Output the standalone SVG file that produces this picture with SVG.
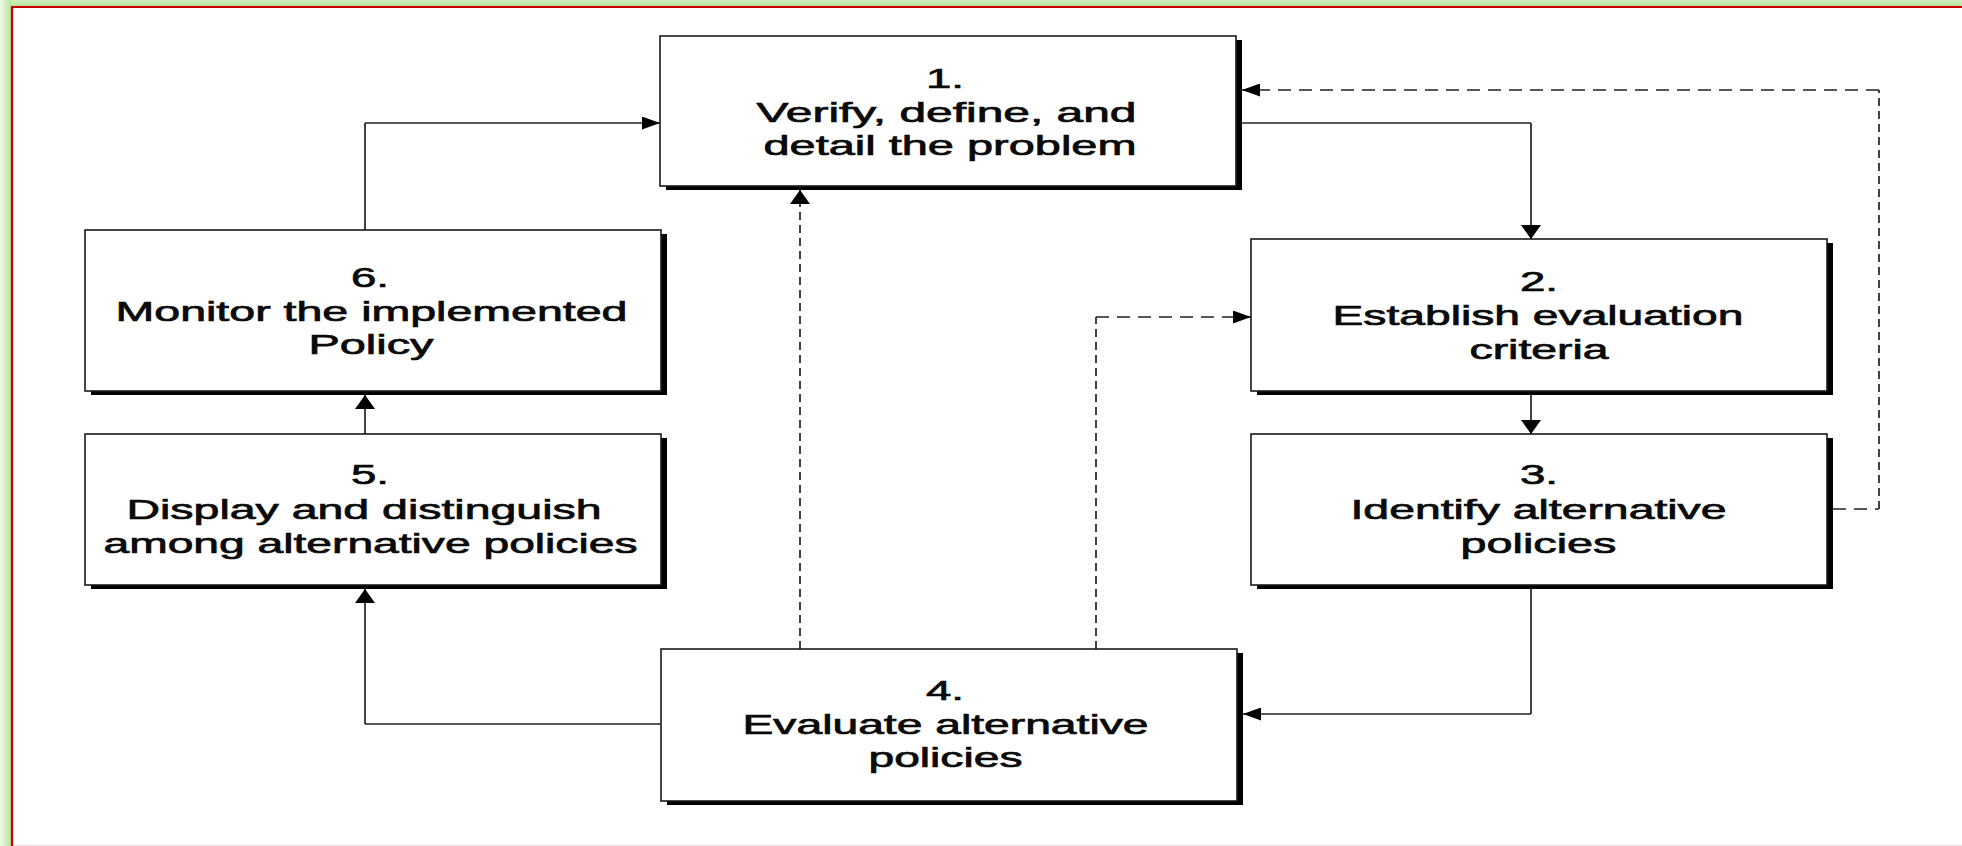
<svg xmlns="http://www.w3.org/2000/svg" width="1962" height="846" viewBox="0 0 1962 846">
<style>
.box{fill:#fff;stroke:#1a1a1a;stroke-width:1.6}
.sh{fill:#000}
.t{font-family:"Liberation Sans",Arial,sans-serif;font-size:28px;fill:#0a0a0a;stroke:#0a0a0a;stroke-width:0.7;text-anchor:middle}
.c{fill:none;stroke:#222;stroke-width:1.7}
.dh{fill:none;stroke:#222;stroke-width:1.7;stroke-dasharray:13 8}
.dv{fill:none;stroke:#222;stroke-width:1.7;stroke-dasharray:8 5}
</style>
<defs>
<linearGradient id="gl" x1="0" y1="0" x2="1" y2="0"><stop offset="0" stop-color="#eef9e6"/><stop offset="1" stop-color="#b9e39d"/></linearGradient>
<linearGradient id="gt" x1="0" y1="0" x2="0" y2="1"><stop offset="0" stop-color="#d0eebd"/><stop offset="1" stop-color="#b9e39d"/></linearGradient>
<marker id="ah" markerUnits="userSpaceOnUse" markerWidth="18" markerHeight="13" refX="18" refY="6.5" orient="auto"><path d="M0,0 L18,6.5 L0,13 Z" fill="#000"/></marker>
<marker id="av" markerUnits="userSpaceOnUse" markerWidth="14" markerHeight="20" refX="14" refY="10" orient="auto"><path d="M0,0 L14,10 L0,20 Z" fill="#000"/></marker>
</defs>
<rect width="1962" height="846" fill="#fff"/>
<g id="frame">
<rect x="0" y="0" width="1962" height="6" fill="url(#gt)"/>
<rect x="0" y="0" width="11" height="846" fill="url(#gl)"/>
<path d="M12,846 L12,7 L1962,7" fill="none" stroke="#cc0000" stroke-width="2.2"/>
<line x1="13" y1="845.5" x2="1962" y2="845.5" stroke="#f3dce2" stroke-width="1"/>
</g>
<g id="connectors">
<g id="c6-1"><path class="c" d="M365,230 L365,123" /><path class="c" d="M365,123 L660,123" marker-end="url(#ah)"/></g>
<g id="c1-2"><path class="c" d="M1242,123 L1531,123"/><path class="c" d="M1531,123 L1531,239" marker-end="url(#av)"/></g>
<g id="c2-3"><path class="c" d="M1531,395 L1531,434" marker-end="url(#av)"/></g>
<g id="c3-4"><path class="c" d="M1531,589 L1531,714"/><path class="c" d="M1531,714 L1243,714" marker-end="url(#ah)"/></g>
<g id="c4-5"><path class="c" d="M661,724 L365,724"/><path class="c" d="M365,724 L365,589" marker-end="url(#av)"/></g>
<g id="c5-6"><path class="c" d="M365,434 L365,395" marker-end="url(#av)"/></g>
<g id="c4-1"><path class="dv" d="M800,649 L800,190" marker-end="url(#av)"/></g>
<g id="c4-2"><path class="dv" d="M1096,649 L1096,317"/><path class="dh" d="M1096,317 L1251,317" marker-end="url(#ah)"/></g>
<g id="c3-1"><path class="dh" d="M1833,509 L1879,509"/><path class="dv" d="M1879,509 L1879,90"/><path class="dh" d="M1879,90 L1242,90" marker-end="url(#ah)"/></g>
</g>
<g id="node1">
<rect class="sh" x="666" y="40" width="576" height="150"/>
<rect class="box" x="660" y="36" width="576" height="150"/>
<text class="t" x="945" y="88" textLength="38" lengthAdjust="spacingAndGlyphs">1.</text>
<text class="t" x="946.5" y="122" textLength="380" lengthAdjust="spacingAndGlyphs">Verify, define, and</text>
<text class="t" x="950" y="155" textLength="373" lengthAdjust="spacingAndGlyphs">detail the problem</text>
</g>
<g id="node2">
<rect class="sh" x="1257" y="243" width="576" height="152"/>
<rect class="box" x="1251" y="239" width="576" height="152"/>
<text class="t" x="1539" y="291" textLength="38" lengthAdjust="spacingAndGlyphs">2.</text>
<text class="t" x="1538" y="325" textLength="411" lengthAdjust="spacingAndGlyphs">Establish evaluation</text>
<text class="t" x="1539" y="359" textLength="139" lengthAdjust="spacingAndGlyphs">criteria</text>
</g>
<g id="node3">
<rect class="sh" x="1257" y="438" width="576" height="151"/>
<rect class="box" x="1251" y="434" width="576" height="151"/>
<text class="t" x="1539" y="484" textLength="38" lengthAdjust="spacingAndGlyphs">3.</text>
<text class="t" x="1538.5" y="519" textLength="376" lengthAdjust="spacingAndGlyphs">Identify alternative</text>
<text class="t" x="1538.5" y="553" textLength="156" lengthAdjust="spacingAndGlyphs">policies</text>
</g>
<g id="node4">
<rect class="sh" x="667" y="653" width="576" height="152"/>
<rect class="box" x="661" y="649" width="576" height="152"/>
<text class="t" x="945" y="700" textLength="38" lengthAdjust="spacingAndGlyphs">4.</text>
<text class="t" x="945.5" y="734" textLength="406" lengthAdjust="spacingAndGlyphs">Evaluate alternative</text>
<text class="t" x="945.5" y="767" textLength="154" lengthAdjust="spacingAndGlyphs">policies</text>
</g>
<g id="node5">
<rect class="sh" x="91" y="438" width="576" height="151"/>
<rect class="box" x="85" y="434" width="576" height="151"/>
<text class="t" x="370" y="484" textLength="38" lengthAdjust="spacingAndGlyphs">5.</text>
<text class="t" x="364" y="519" textLength="475" lengthAdjust="spacingAndGlyphs">Display and distinguish</text>
<text class="t" x="370.5" y="553" textLength="534" lengthAdjust="spacingAndGlyphs">among alternative policies</text>
</g>
<g id="node6">
<rect class="sh" x="91" y="234" width="576" height="161"/>
<rect class="box" x="85" y="230" width="576" height="161"/>
<text class="t" x="370" y="287" textLength="38" lengthAdjust="spacingAndGlyphs">6.</text>
<text class="t" x="371.5" y="321" textLength="512" lengthAdjust="spacingAndGlyphs">Monitor the implemented</text>
<text class="t" x="371" y="354" textLength="125" lengthAdjust="spacingAndGlyphs">Policy</text>
</g>
</svg>
